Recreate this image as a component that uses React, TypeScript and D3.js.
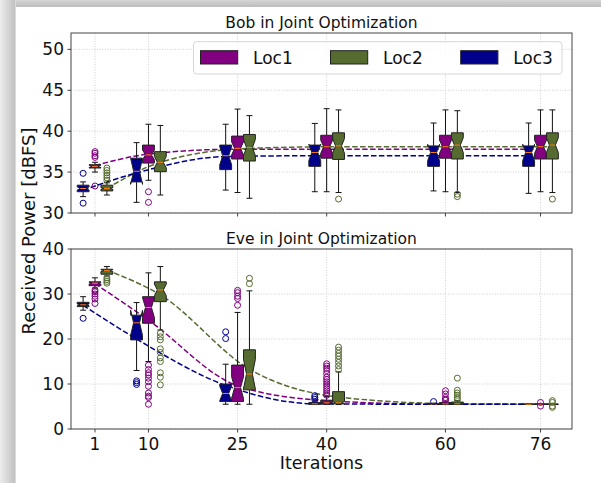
import React from 'react';
import * as d3 from 'd3';

const iterations = [1, 10, 25, 40, 60, 76];
const locations = ['Loc1', 'Loc2', 'Loc3'];
const locColors = ['#800080', '#556b2f', '#00008b'];
const locOffsets = [0, 2, -2];

// each box: [lower whisker, Q1, median, Q3, upper whisker]
const bobLoc1 = [
  [35.0, 35.5, 35.7, 35.9, 36.2],
  [34.0, 36.1, 37.1, 38.3, 40.85],
  [32.5, 36.6, 37.9, 39.4, 42.7],
  [32.6, 36.7, 38.1, 39.5, 42.75],
  [32.6, 36.7, 38.1, 39.5, 42.6],
  [32.6, 36.6, 38.1, 39.5, 42.6],
];
const bobLoc1Notch = [0.15, 0.6, 0.8, 0.8, 0.8, 0.8];
const bobLoc1Fliers = [[33.3, 36.8, 37.0, 37.3, 37.5], [32.6, 31.3], [], [], [], []];
const bobLoc1Trend = [35.8, 37.2, 37.8, 37.8, 37.8, 37.8];

const bobLoc2 = [
  [32.2, 32.7, 33.0, 33.4, 33.7],
  [32.2, 35.05, 36.2, 37.5, 40.7],
  [31.8, 36.35, 38.0, 39.6, 41.9],
  [32.5, 36.55, 38.2, 39.8, 42.6],
  [32.5, 36.6, 38.3, 39.8, 42.5],
  [32.5, 36.6, 38.3, 39.8, 42.6],
];
const bobLoc2Notch = [0.1, 0.7, 1.0, 0.9, 0.9, 0.9];
const bobLoc2Fliers = [[34.0, 34.3, 34.6, 34.9, 35.2, 35.5], [], [], [31.7], [32.3, 32.0], [31.7]];
const bobLoc2Trend = [33.0, 36.2, 37.9, 38.1, 38.1, 38.1];

const bobLoc3 = [
  [32.0, 32.6, 33.0, 33.4, 33.8],
  [31.3, 33.8, 35.1, 36.7, 38.6],
  [32.8, 35.3, 37.0, 38.3, 40.85],
  [32.6, 35.7, 37.4, 38.3, 40.95],
  [32.7, 35.7, 37.4, 38.2, 41.0],
  [32.4, 35.7, 37.4, 38.2, 41.0],
];
const bobLoc3Notch = [0.2, 1.6, 1.1, 1.0, 1.0, 1.0];
const bobLoc3Fliers = [[34.85, 31.2], [], [], [], [], []];
const bobLoc3Trend = [32.8, 34.9, 36.9, 37.0, 37.0, 37.0];

const eveLoc1 = [
  [31.3, 31.85, 32.4, 32.7, 33.6],
  [15.0, 23.5, 27.0, 29.4, 34.7],
  [5.5, 6.1, 9.2, 14.2, 25.9],
  [5.5, 5.6, 5.8, 6.4, 7.2],
  [5.5, 5.5, 5.6, 5.9, 6.2],
  [5.5, 5.5, 5.5, 5.5, 5.5],
];
const eveLoc1Notch = [0.2, 2.2, 2.4, 0.1, 0.05, 0];
const eveLoc1Fliers = [
  [30.9, 30.5, 30.0, 29.5, 28.9, 27.9],
  [14.2, 13.2, 12.5, 12.0, 11.3, 10.5, 9.5, 8.0, 7.3, 7.0, 5.5],
  [30.8, 30.3, 29.5, 29.0, 27.5],
  [14.5, 14.0, 13.5, 13.0, 12.3, 11.5, 11.0, 10.5, 10.0, 9.5, 9.0, 8.5, 8.0, 7.5],
  [8.5, 7.8, 7.0, 6.6, 6.4],
  [5.9, 5.1],
];
const eveLoc1Trend = [32.3, 24.2, 9.6, 6.3, 5.5, 5.5];

const eveLoc2 = [
  [34.0, 34.4, 35.2, 35.5, 36.1],
  [22.0, 28.3, 30.9, 32.7, 36.1],
  [5.5, 8.7, 12.2, 17.6, 30.7],
  [5.5, 5.6, 5.8, 8.3, 12.7],
  [5.5, 5.5, 5.6, 6.0, 6.3],
  [5.5, 5.5, 5.5, 5.5, 5.5],
];
const eveLoc2Notch = [0.2, 1.3, 3.3, 0.3, 0.05, 0];
const eveLoc2Fliers = [
  [33.6, 33.2, 32.8, 32.4],
  [21.3, 20.5, 19.8, 17.8, 17.0, 15.8, 15.0, 12.5, 11.5, 9.8],
  [33.5, 32.3],
  [18.2, 17.5, 16.8, 16.2, 15.5, 14.8, 14.0, 13.2],
  [11.3, 8.6, 8.0, 7.5, 7.0, 6.6],
  [6.3, 5.9, 5.1, 4.8],
];
const eveLoc2Trend = [35.3, 29.8, 13.3, 7.1, 5.6, 5.5];

const eveLoc3 = [
  [26.4, 27.2, 27.6, 28.15, 29.4],
  [13.0, 19.8, 23.6, 25.3, 28.1],
  [5.5, 6.1, 7.9, 10.0, 14.4],
  [5.5, 5.5, 5.6, 5.9, 6.2],
  [5.5, 5.5, 5.5, 5.6, 5.7],
  [5.5, 5.5, 5.5, 5.5, 5.5],
];
const eveLoc3Notch = [0.2, 2.8, 1.6, 0.05, 0, 0];
const eveLoc3Fliers = [[24.6], [10.7, 10.3, 9.9], [21.6, 20.1], [7.4, 7.0, 6.6], [6.1], []];
const eveLoc3Trend = [27.5, 20.0, 9.7, 5.6, 5.5, 5.5];

const bobTicks = [30, 35, 40, 45, 50];
const eveTicks = [0, 10, 20, 30, 40];

const font = 'DejaVu Sans, sans-serif';
const left = 71;
const right = 572;
const boxW = 2; // in iteration units

const x = d3.scaleLinear().domain([-3.04, 81.3]).range([left, right]);

const panels = [
  {
    title: 'Bob in Joint Optimization',
    top: 33, bottom: 213, domain: [30, 52], ticks: bobTicks,
    stats: [bobLoc1, bobLoc2, bobLoc3],
    notch: [bobLoc1Notch, bobLoc2Notch, bobLoc3Notch],
    fliers: [bobLoc1Fliers, bobLoc2Fliers, bobLoc3Fliers],
    trend: [bobLoc1Trend, bobLoc2Trend, bobLoc3Trend],
    labels: false,
  },
  {
    title: 'Eve in Joint Optimization',
    top: 249, bottom: 429, domain: [0, 40], ticks: eveTicks,
    stats: [eveLoc1, eveLoc2, eveLoc3],
    notch: [eveLoc1Notch, eveLoc2Notch, eveLoc3Notch],
    fliers: [eveLoc1Fliers, eveLoc2Fliers, eveLoc3Fliers],
    trend: [eveLoc1Trend, eveLoc2Trend, eveLoc3Trend],
    labels: true,
  },
];

function boxPath(cx: number, w: number, s: number[], n: number, y: (v: number) => number) {
  const [, q1, med, q3] = s;
  const l = cx - w / 2, r = cx + w / 2, cl = cx - w / 4, cr = cx + w / 4;
  const pts = [
    [l, q1], [r, q1], [r, med - n], [cr, med], [r, med + n], [r, q3],
    [l, q3], [l, med + n], [cl, med], [l, med - n],
  ];
  return 'M' + pts.map(([px, py]) => `${px},${y(py)}`).join('L') + 'Z';
}

function Panel({ p }: { p: typeof panels[number] }) {
  const y = d3.scaleLinear().domain(p.domain).range([p.bottom, p.top]);
  const w = x(boxW) - x(0);
  const line = d3.line<[number, number]>()
    .x(d => d[0]).y(d => d[1]).curve(d3.curveMonotoneX);

  return (
    <g>
      {/* grid */}
      {iterations.map(it => (
        <line key={'gx' + it} x1={x(it)} x2={x(it)} y1={p.top} y2={p.bottom}
          stroke="#c4c4c4" strokeWidth={0.8} strokeDasharray="1,1.6" />
      ))}
      {p.ticks.map(t => (
        <line key={'gy' + t} x1={left} x2={right} y1={y(t)} y2={y(t)}
          stroke="#c4c4c4" strokeWidth={0.8} strokeDasharray="1,1.6" />
      ))}
      {/* trend lines */}
      {locations.map((loc, li) => (
        <path key={'tr' + loc} fill="none" stroke={locColors[li]} strokeWidth={1.5}
          strokeDasharray="5.5,2.4"
          d={line(iterations.map((it, i) => [x(it + locOffsets[li]), y(p.trend[li][i])]) as [number, number][]) || ''} />
      ))}
      {/* boxes */}
      {locations.map((loc, li) => iterations.map((it, i) => {
        const s = p.stats[li][i];
        const cx = x(it + locOffsets[li]);
        return (
          <g key={loc + it}>
            <line x1={cx} x2={cx} y1={y(s[1])} y2={y(s[0])} stroke="#111" strokeWidth={1} />
            <line x1={cx} x2={cx} y1={y(s[3])} y2={y(s[4])} stroke="#111" strokeWidth={1} />
            <line x1={cx - w / 4} x2={cx + w / 4} y1={y(s[0])} y2={y(s[0])} stroke="#111" strokeWidth={1} />
            <line x1={cx - w / 4} x2={cx + w / 4} y1={y(s[4])} y2={y(s[4])} stroke="#111" strokeWidth={1} />
            <path d={boxPath(cx, w, s, p.notch[li][i], y)} fill={locColors[li]}
              stroke="#222" strokeWidth={1} strokeLinejoin="miter" />
            <line x1={cx - w / 4} x2={cx + w / 4} y1={y(s[2])} y2={y(s[2])} stroke="#ff7f0e" strokeWidth={1} />
            {p.fliers[li][i].map((f, fi) => (
              <circle key={fi} cx={cx} cy={y(f)} r={3} fill="none" stroke={locColors[li]} strokeWidth={1} />
            ))}
          </g>
        );
      }))}
      {/* frame */}
      <rect x={left} y={p.top} width={right - left} height={p.bottom - p.top}
        fill="none" stroke="#444" strokeWidth={1} />
      {/* y ticks */}
      {p.ticks.map(t => (
        <g key={'yt' + t}>
          <line x1={left - 3.5} x2={left} y1={y(t)} y2={y(t)} stroke="#444" strokeWidth={1} />
          <text x={left - 7} y={y(t)} dy="0.36em" textAnchor="end" fontSize={17}
            fontFamily={font} fill="#111">{t}</text>
        </g>
      ))}
      {/* x ticks */}
      {iterations.map(it => (
        <g key={'xt' + it}>
          <line x1={x(it)} x2={x(it)} y1={p.bottom} y2={p.bottom + 3.5} stroke="#444" strokeWidth={1} />
          {p.labels && (
            <text x={x(it)} y={450} textAnchor="middle" fontSize={17} fontFamily={font} fill="#111">{it}</text>
          )}
        </g>
      ))}
      <text x={(left + right) / 2} y={p.top - 5} textAnchor="middle" fontSize={15.5}
        fontFamily={font} fill="#111">{p.title}</text>
    </g>
  );
}

function Legend() {
  const patchX = [200.5, 330.5, 460.7];
  return (
    <g>
      <rect x={193.5} y={41.7} width={368.5} height={32.3} rx={3}
        fill="#fff" fillOpacity={0.85} stroke="#d6d6d6" strokeWidth={1} />
      {locations.map((loc, li) => (
        <g key={loc}>
          <rect x={patchX[li]} y={50.7} width={37.2} height={13.3}
            fill={locColors[li]} stroke="#222" strokeWidth={1} />
          <text x={patchX[li] + 52.5} y={64} fontSize={17} fontFamily={font} fill="#111">{loc}</text>
        </g>
      ))}
    </g>
  );
}

export default function App() {
  return (
    <svg width={601} height={483} style={{ position: 'absolute', left: 0, top: 0, background: '#fff' }}>
      <defs>
        <linearGradient id="lshade" x1="0" x2="1" y1="0" y2="0">
          <stop offset="0" stopColor="#ececec" />
          <stop offset="0.45" stopColor="#d8d8d8" />
          <stop offset="0.9" stopColor="#c2c2c2" />
          <stop offset="1" stopColor="#e6e6e6" />
        </linearGradient>
        <linearGradient id="tshade" x1="0" x2="0" y1="0" y2="1">
          <stop offset="0" stopColor="#d6d6d6" />
          <stop offset="1" stopColor="#bdbdbd" />
        </linearGradient>
      </defs>
      <rect x={0} y={0} width={601} height={483} fill="#fff" />
      <rect x={0} y={0} width={601} height={7} fill="url(#tshade)" />
      <rect x={0} y={0} width={16} height={483} fill="url(#lshade)" />
      {panels.map(p => <Panel key={p.title} p={p} />)}
      <Legend />
      <text transform="translate(35,231) rotate(-90)" textAnchor="middle" fontSize={18}
        fontFamily={font} fill="#111">Received Power [dBFS]</text>
      <text x={(left + right) / 2} y={469} textAnchor="middle" fontSize={17.5}
        fontFamily={font} fill="#111">Iterations</text>
    </svg>
  );
}
